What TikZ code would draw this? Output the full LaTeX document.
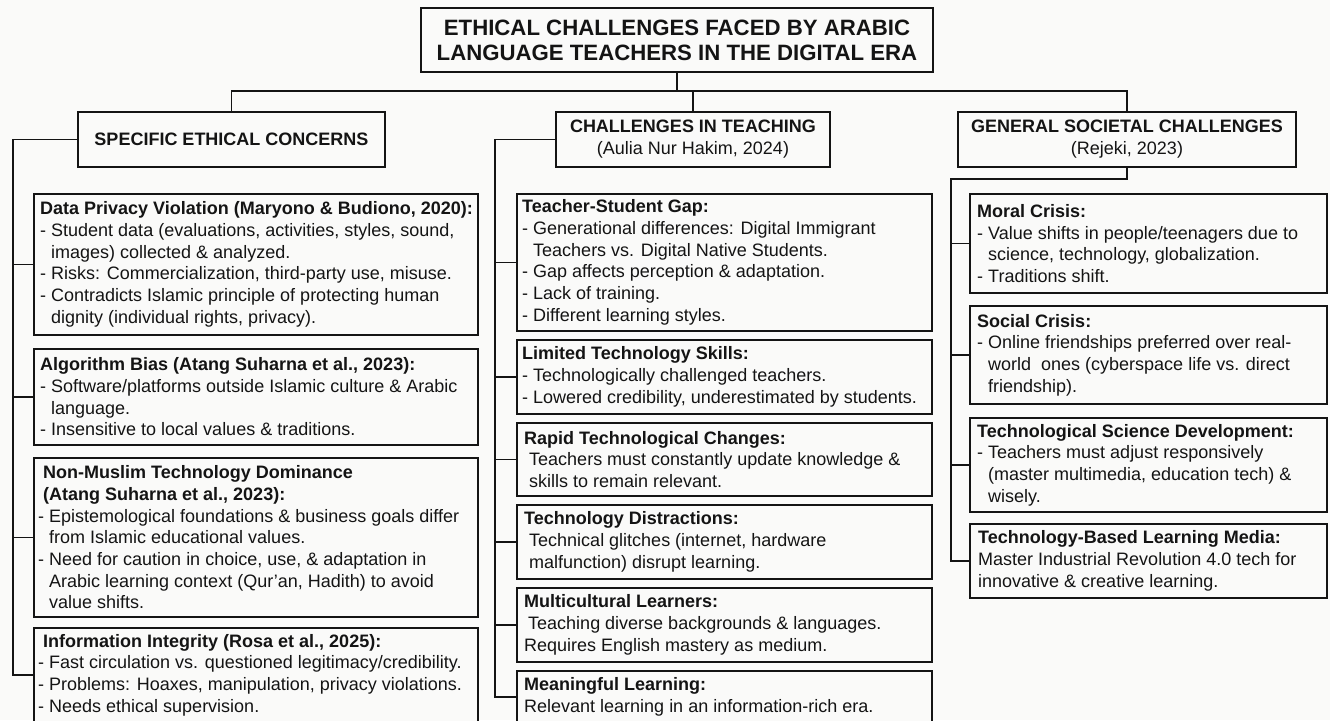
\documentclass[tikz,border=0pt]{standalone}
\usepackage{fontspec}
\setmainfont{Liberation Sans}
\definecolor{ink}{HTML}{141414}
\definecolor{paper}{HTML}{FAFAF9}
\newcommand\bodyfont{\fontsize{18}{21.7}\selectfont}
\newcommand\headfont{\fontsize{18}{22}\selectfont}
\newcommand\titlefont{\fontsize{22.2}{25}\selectfont\bfseries}
% continuation indent under a "- " bullet
\newcommand\contind{\phantom{- }}
\tikzset{
  box/.style={draw=ink, line width=1.9pt, fill=paper, inner sep=0pt},
  link/.style={draw=ink, line width=1.9pt},
  body/.style={inner sep=0pt, align=left, anchor=west, font=\bodyfont, text=ink},
  head/.style={box, align=center, font=\headfont, text=ink},
}
% \contentbox[text offset]{name}{x}{y}{width}{height}{text}
\newcommand\contentbox[7][7]{%
  \node[box, anchor=north west, minimum width=#5pt, minimum height=#6pt] (#2) at (#3,#4) {};
  \node[body] at ([xshift=#1pt]#2.west) {#7};
}
\begin{document}
\begin{tikzpicture}[x=1pt, y=-1pt]
\fill[paper] (0,0) rectangle (1330,720);
\useasboundingbox (0,0) rectangle (1330,720);
\begin{scope}
\clip (0,0) rectangle (1330,720);

% title and column headers
\node[head, font=\titlefont, minimum width=512pt, minimum height=64pt] (title) at (677,40)
  {ETHICAL CHALLENGES FACED BY ARABIC\\LANGUAGE TEACHERS IN THE DIGITAL ERA};
\node[head, minimum width=307pt, minimum height=55pt] (h1) at (231.5,139.5)
  {\textbf{SPECIFIC ETHICAL CONCERNS}};
\node[head, minimum width=274pt, minimum height=55pt] (h2) at (693,139.5)
  {\textbf{CHALLENGES IN TEACHING}\\(Aulia Nur Hakim, 2024)};
\node[head, minimum width=338pt, minimum height=55pt] (h3) at (1127,139.5)
  {\textbf{GENERAL SOCIETAL CHALLENGES}\\(Rejeki, 2023)};

% left column
\contentbox{dp}{33}{193}{444}{141}{%
  \textbf{Data Privacy Violation (Maryono \& Budiono, 2020):}\\
  - Student data (evaluations, activities, styles, sound,\\
  \contind images) collected \& analyzed.\\
  - Risks: Commercialization, third-party use, misuse.\\
  - Contradicts Islamic principle of protecting human\\
  \contind dignity (individual rights, privacy).}
\contentbox{ab}{33}{348}{444}{96}{%
  \textbf{Algorithm Bias (Atang Suharna et al., 2023):}\\
  - Software/platforms outside Islamic culture \& Arabic\\
  \contind language.\\
  - Insensitive to local values \& traditions.}
\contentbox[5]{nm}{33}{457}{444}{159}{%
  \hspace*{5pt}\textbf{Non-Muslim Technology Dominance}\\
  \hspace*{5pt}\textbf{(Atang Suharna et al., 2023):}\\
  - Epistemological foundations \& business goals differ\\
  \contind from Islamic educational values.\\
  - Need for caution in choice, use, \& adaptation in\\
  \contind Arabic learning context (Qur’an, Hadith) to avoid\\
  \contind value shifts.}
\contentbox[5]{ii}{33}{627}{444}{94}{%
  \hspace*{5pt}\textbf{Information Integrity (Rosa et al., 2025):}\\
  - Fast circulation vs. questioned legitimacy/credibility.\\
  - Problems: Hoaxes, manipulation, privacy violations.\\
  - Needs ethical supervision.}

% middle column
\contentbox[6]{ts}{516}{193}{415}{137}{%
  \textbf{Teacher-Student Gap:}\\
  - Generational differences: Digital Immigrant\\
  \contind Teachers vs. Digital Native Students.\\
  - Gap affects perception \& adaptation.\\
  - Lack of training.\\
  - Different learning styles.}
\contentbox[6]{lt}{516}{339}{415}{74}{%
  \textbf{Limited Technology Skills:}\\
  - Technologically challenged teachers.\\
  - Lowered credibility, underestimated by students.}
\contentbox[8]{rt}{516}{422}{415}{73}{%
  \textbf{Rapid Technological Changes:}\\
  \hspace*{5pt}Teachers must constantly update knowledge \&\\
  \hspace*{5pt}skills to remain relevant.}
\contentbox[8]{td}{516}{504}{415}{74}{%
  \textbf{Technology Distractions:}\\
  \hspace*{5pt}Technical glitches (internet, hardware\\
  \hspace*{5pt}malfunction) disrupt learning.}
\contentbox[8]{ml}{516}{587}{415}{74}{%
  \textbf{Multicultural Learners:}\\
  \hspace*{4pt}Teaching diverse backgrounds \& languages.\\
  Requires English mastery as medium.}
\contentbox[8]{mel}{516}{670}{415}{52}{%
  \textbf{Meaningful Learning:}\\
  Relevant learning in an information-rich era.}

% right column
\contentbox[8]{mc}{969}{193}{357}{99}{%
  \textbf{Moral Crisis:}\\
  - Value shifts in people/teenagers due to\\
  \contind science, technology, globalization.\\
  - Traditions shift.}
\contentbox[8]{sc}{969}{305}{357}{98}{%
  \textbf{Social Crisis:}\\
  - Online friendships preferred over real-\\
  \contind world\ \ ones (cyberspace life vs. direct\\
  \contind friendship).}
\contentbox[8]{tsd}{969}{417}{357}{94}{%
  \textbf{Technological Science Development:}\\
  - Teachers must adjust responsively\\
  \contind (master multimedia, education tech) \&\\
  \contind wisely.}
\contentbox[9]{tbl}{969}{523}{357}{74}{%
  \textbf{Technology-Based Learning Media:}\\
  Master Industrial Revolution 4.0 tech for\\
  innovative \& creative learning.}

% connectors: title to the three headers
\coordinate (bus) at (677,91);
\draw[link] (title.south) -- (bus);
\draw[link] (h1.north) |- (bus) -| (h3.north);
\draw[link] (h2.north) -- (h2.north |- bus);

% left spine
\coordinate (lx) at (13,0);
\draw[link] (h1.west) -| (lx |- ii.west) -- (ii.west);
\foreach \b in {dp,ab,nm} \draw[link] (lx |- \b.west) -- (\b.west);

% middle spine
\coordinate (mx) at (495,0);
\draw[link] (h2.west) -| (mx |- mel.west) -- (mel.west);
\foreach \b in {ts,lt,rt,td,ml} \draw[link] (mx |- \b.west) -- (\b.west);

% right spine
\coordinate (rk) at (951,179);
\draw[link] (h3.south) |- (rk) -- (rk |- tbl.west) -- (tbl.west);
\foreach \b in {mc,sc,tsd} \draw[link] (rk |- \b.west) -- (\b.west);
\end{scope}
\end{tikzpicture}
\end{document}
